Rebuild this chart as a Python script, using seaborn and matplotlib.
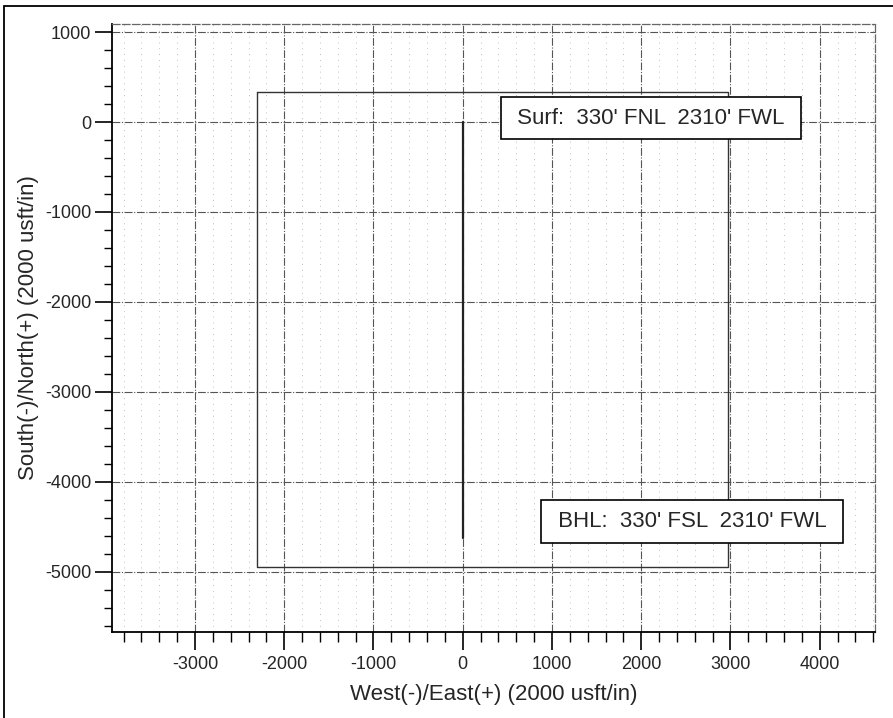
import pandas as pd
import seaborn as sns
import matplotlib.pyplot as plt
from matplotlib.ticker import MultipleLocator
from matplotlib.patches import Rectangle

# Lease boundary (section lines) and well path, in usft
leaseEW = [-2310, 2970, 2970, -2310, -2310]
leaseNS = [330, 330, -4950, -4950, 330]
wellEW = [0, 0]
wellNS = [0, -4620]

# Label annotations
labelText = ["Surf:  330' FNL  2310' FWL", "BHL:  330' FSL  2310' FWL"]
labelEW = [2105, 2570]
labelNS = [44, -4440]

leaseData = pd.DataFrame({'ew': leaseEW, 'ns': leaseNS, 'part': 'lease'})
wellData = pd.DataFrame({'ew': wellEW, 'ns': wellNS, 'part': 'well'})

sns.set_theme(style='white')
plt.rcParams['font.family'] = ['Liberation Sans', 'DejaVu Sans']
plt.rcParams['axes.unicode_minus'] = False

fig = plt.figure(figsize=(8.93, 7.18), dpi=100)
ax = fig.add_axes([0.1254, 0.1198, 0.8545, 0.8468])

# outer frame of the scanned page
fig.patches.append(Rectangle((0.004, -0.01), 1.2, 1.002, transform=fig.transFigure,
                             fill=False, edgecolor='black', linewidth=1.3))

# Lease lines and well path
sns.lineplot(data=leaseData, x='ew', y='ns', sort=False, estimator=None,
             color='#333333', linewidth=1.0, ax=ax)
sns.lineplot(data=wellData, x='ew', y='ns', sort=False, estimator=None,
             color='#222222', linewidth=1.6, ax=ax)

ax.set_xlim(-3930, 4620)
ax.set_ylim(-5670, 1090)

ax.xaxis.set_major_locator(MultipleLocator(1000))
ax.xaxis.set_minor_locator(MultipleLocator(200))
ax.yaxis.set_major_locator(MultipleLocator(1000))
ax.yaxis.set_minor_locator(MultipleLocator(200))

# Izgara: ana cizgiler kesikli, ara cizgiler noktali
ax.grid(which='major', color='#555555', linestyle=(0, (7, 1.5, 1, 1.5)), linewidth=0.8)
ax.grid(which='minor', axis='x', color='#aaaaaa', linestyle=(0, (1, 6)), linewidth=0.6)
ax.set_axisbelow(True)

ax.tick_params(axis='x', which='major', direction='out', length=13, width=1.2,
               color='black', labelsize=13, pad=4, bottom=True)
ax.tick_params(axis='x', which='minor', direction='out', length=7, width=1.0,
               color='black', bottom=True)
ax.tick_params(axis='y', which='major', direction='out', length=12, width=1.2,
               color='black', labelsize=13, pad=3, left=True)
ax.tick_params(axis='y', which='minor', direction='out', length=6, width=1.0,
               color='black', left=True)

for side in ['bottom', 'left']:
    ax.spines[side].set_color('black')
    ax.spines[side].set_linewidth(1.3)
for side in ['top', 'right']:
    ax.spines[side].set_color('#666666')
    ax.spines[side].set_linestyle((0, (6, 2)))
    ax.spines[side].set_linewidth(0.9)

ax.set_xlabel('West(-)/East(+) (2000 usft/in)', fontsize=16, labelpad=8)
ax.set_ylabel('South(-)/North(+) (2000 usft/in)', fontsize=16, labelpad=4)

for txt, xe, yn in zip(labelText, labelEW, labelNS):
    ax.text(xe, yn, ' ' + txt + ' ', fontsize=16, ha='center', va='center', zorder=5,
            bbox=dict(boxstyle='square,pad=0.48', facecolor='white',
                      edgecolor='black', linewidth=1.2))

fig.savefig('out.png', dpi=100)
